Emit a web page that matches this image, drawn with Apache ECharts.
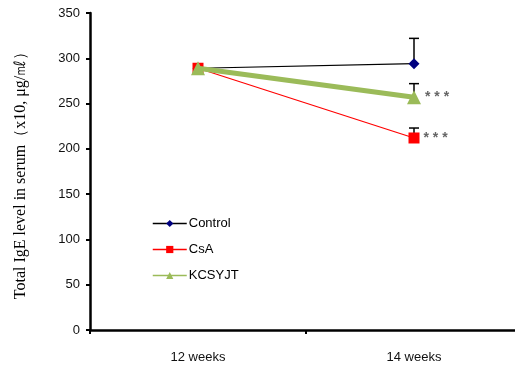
<!DOCTYPE html>
<html>
<head>
<meta charset="utf-8">
<script src="https://cdn.jsdelivr.net/npm/echarts@6/dist/echarts.min.js"></script>
<style>html,body{margin:0;padding:0;background:#fff;overflow:hidden}#c{width:524px;height:367px}</style>
</head>
<body>
<div id="c"></div>
<script>
// Serum total IgE by week and treatment group
const categories = ['12 weeks', '14 weeks'];
const controlMean = [289, 294];
const controlErr = [0, 28];
const csaMean = [289, 212];
const csaErr = [0, 11];
const kcsyjtMean = [289, 257];
const kcsyjtErr = [0, 15];
const significance = ['', '* * *'];
const yTicks = [0, 50, 100, 150, 200, 250, 300, 350];

const chart = echarts.init(document.getElementById('c'), null, {renderer: 'canvas'});

// Upper-only error bar with a small cap
function errorBar(mean, err) {
  return {
    type: 'custom',
    silent: true,
    z: 1,
    data: categories.map((c, i) => [i, mean[i], mean[i] + err[i]]),
    renderItem: function (params, api) {
      const lo = api.coord([api.value(0), api.value(1)]);
      const hi = api.coord([api.value(0), api.value(2)]);
      if (Math.abs(lo[1] - hi[1]) < 1) return null;
      return {
        type: 'group',
        children: [
          {type: 'line', shape: {x1: lo[0], y1: lo[1], x2: hi[0], y2: hi[1]}, style: {stroke: '#000', lineWidth: 1.5}},
          {type: 'line', shape: {x1: hi[0] - 5, y1: hi[1], x2: hi[0] + 5, y2: hi[1]}, style: {stroke: '#000', lineWidth: 1.5}}
        ]
      };
    }
  };
}

function starLabel() {
  return {
    show: true,
    position: 'right',
    distance: 4,
    color: '#666',
    fontFamily: 'Liberation Sans',
    fontSize: 14,
    fontWeight: 'bold',
    formatter: p => significance[p.dataIndex]
  };
}

chart.setOption({
  animation: false,
  grid: {left: 90, top: 13, right: 2, height: 317, containLabel: false},
  legend: {
    left: 147, top: 212, orient: 'vertical', itemGap: 13,
    itemWidth: 34, itemHeight: 9,
    lineStyle: {width: 1.5},
    textStyle: {fontFamily: 'Liberation Sans', fontSize: 13, color: '#000', padding: [0, 0, 0, -3]},
    data: ['Control', 'CsA', 'KCSYJT']
  },
  xAxis: {
    type: 'category',
    data: categories,
    boundaryGap: true,
    axisLine: {lineStyle: {color: '#000', width: 2.5}},
    axisTick: {show: true, length: 4, lineStyle: {color: '#000', width: 2}},
    axisLabel: {color: '#111', fontFamily: 'Liberation Sans', fontSize: 13, margin: 21},
    splitLine: {show: false}
  },
  yAxis: {
    type: 'value',
    min: yTicks[0], max: yTicks[yTicks.length - 1], interval: 50,
    name: 'Total IgE level in serum（x10, μg/㎖）',
    nameLocation: 'middle', nameGap: 61, nameRotate: 90,
    nameTextStyle: {fontFamily: 'Liberation Serif', fontSize: 16, color: '#000'},
    axisLine: {show: true, lineStyle: {color: '#000', width: 2.5}},
    axisTick: {show: true, inside: false, length: 4, lineStyle: {color: '#000', width: 2}},
    axisLabel: {color: '#111', fontFamily: 'Liberation Sans', fontSize: 13, margin: 10},
    splitLine: {show: false}
  },
  series: [
    errorBar(controlMean, controlErr),
    errorBar(csaMean, csaErr),
    errorBar(kcsyjtMean, kcsyjtErr),
    {
      name: 'Control', type: 'line', data: controlMean, z: 3,
      symbol: 'diamond', symbolSize: 11,
      lineStyle: {color: '#000', width: 1.2},
      itemStyle: {color: '#000080'}
    },
    {
      name: 'CsA', type: 'line', data: csaMean, z: 4,
      symbol: 'rect', symbolSize: 11,
      lineStyle: {color: '#ff0000', width: 1.2},
      itemStyle: {color: '#ff0000'},
      label: starLabel()
    },
    {
      name: 'KCSYJT', type: 'line', data: kcsyjtMean, z: 5,
      symbol: 'triangle', symbolSize: 14,
      lineStyle: {color: '#9bbb59', width: 5},
      itemStyle: {color: '#9bbb59'},
      label: starLabel()
    }
  ]
});
</script>
</body>
</html>
